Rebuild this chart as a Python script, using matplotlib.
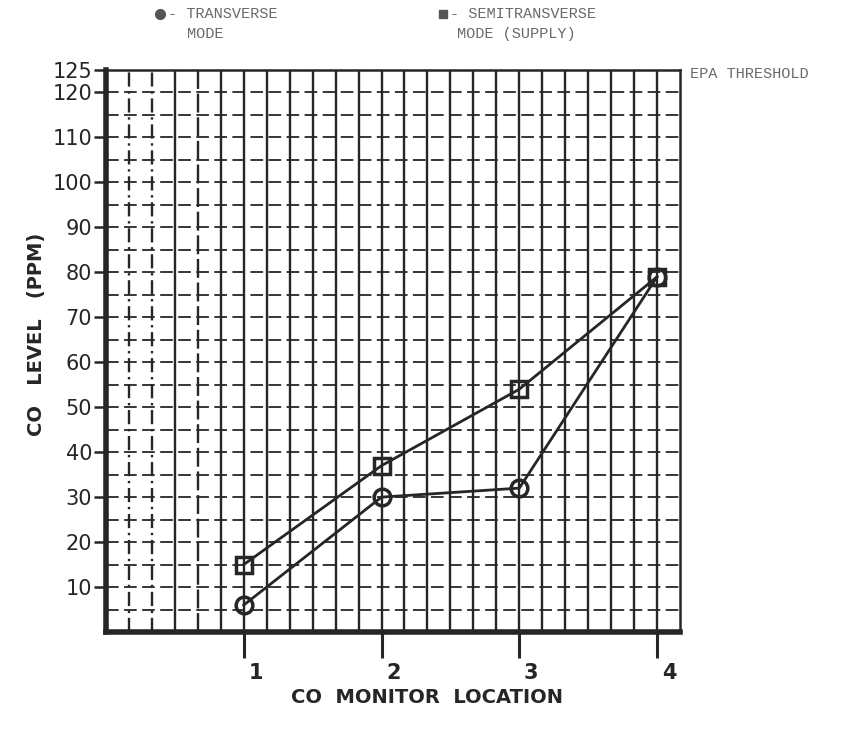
import numpy as np
import matplotlib.pyplot as plt
from matplotlib.lines import Line2D
from matplotlib.transforms import ScaledTranslation

# data
locations = [1, 2, 3, 4]
transverse = [6, 30, 32, 79]
semitransverse = [15, 37, 54, 79]
ytick_vals = [10, 20, 30, 40, 50, 60, 70, 80, 90, 100, 110, 120, 125]
ytick_labels = ['10', '20', '30', '40', '50', '60', '70', '80', '90', '100', '110', '120', '125']

ink = '#262626'
typewriter = ['Liberation Mono', 'DejaVu Sans Mono']

fig = plt.figure(figsize=(8.42, 7.29), dpi=100)
ax = fig.add_axes([106/842, 1-632/729, (680-106)/842, (632-70)/729])
ax.set_xlim(0, 25/6)
ax.set_ylim(0, 125)

# graph-paper grid
for k in range(1, 25):
    ls = '-'
    if k in (1, 2):
        ls = (0, (6, 2, 1, 2))
    elif k == 4:
        ls = (0, (8, 2))
    ax.axvline(k/6, color=ink, lw=1.7, ls=ls, zorder=1)
for v in range(5, 125, 5):
    ax.axhline(v, color=ink, lw=1.3, ls=(0, (7, 3)), zorder=1)

ax.plot(locations, transverse, color=ink, lw=2, marker='o', ms=12,
        mfc='none', mec=ink, mew=2.5, zorder=3)
ax.plot(locations, semitransverse, color=ink, lw=2, marker='s', ms=11,
        mfc='none', mec=ink, mew=2.5, zorder=3)

for s in ['left', 'bottom']:
    ax.spines[s].set_linewidth(4)
    ax.spines[s].set_color(ink)
for s in ['top', 'right']:
    ax.spines[s].set_linewidth(1.8)
    ax.spines[s].set_color(ink)

ax.set_yticks(ytick_vals)
ax.set_yticklabels(ytick_labels, fontsize=15)
ax.tick_params(axis='y', length=9, width=1.8, pad=1, colors=ink)
ax.set_xticks(locations)
ax.set_xticklabels([str(v) for v in locations], fontsize=15, fontweight='bold')
ax.tick_params(axis='x', length=19, width=2.2, pad=3, colors=ink)
for lab in ax.get_xticklabels():
    lab.set_transform(lab.get_transform() + ScaledTranslation(0.12, 0, fig.dpi_scale_trans))

ax.set_xlabel('CO  MONITOR  LOCATION', fontsize=14, fontweight='bold', color=ink)
ax.xaxis.set_label_coords(0.56, -0.1)
ax.set_ylabel('CO   LEVEL   (PPM)', fontsize=14, fontweight='bold', color=ink)
ax.yaxis.set_label_coords(-0.105, 0.53)

# header legend and threshold note, typewriter style
grey = '#6a6a6a'
fig.add_artist(Line2D([160/842], [1-14/729], marker='o', ms=7, color='#555',
                      transform=fig.transFigure))
fig.text(168/842, 1-14/729, '- TRANSVERSE', family=typewriter, fontsize=11,
         color=grey, va='center')
fig.text(187/842, 1-34/729, 'MODE', family=typewriter, fontsize=11,
         color=grey, va='center')
fig.add_artist(Line2D([443/842], [1-14/729], marker='s', ms=6, color='#555',
                      transform=fig.transFigure))
fig.text(450/842, 1-14/729, '- SEMITRANSVERSE', family=typewriter, fontsize=11,
         color=grey, va='center')
fig.text(457/842, 1-34/729, 'MODE (SUPPLY)', family=typewriter, fontsize=11,
         color=grey, va='center')
fig.text(690/842, 1-74/729, 'EPA THRESHOLD', family=typewriter, fontsize=11,
         color=grey, va='center')

fig.savefig('out.png', dpi=100)
